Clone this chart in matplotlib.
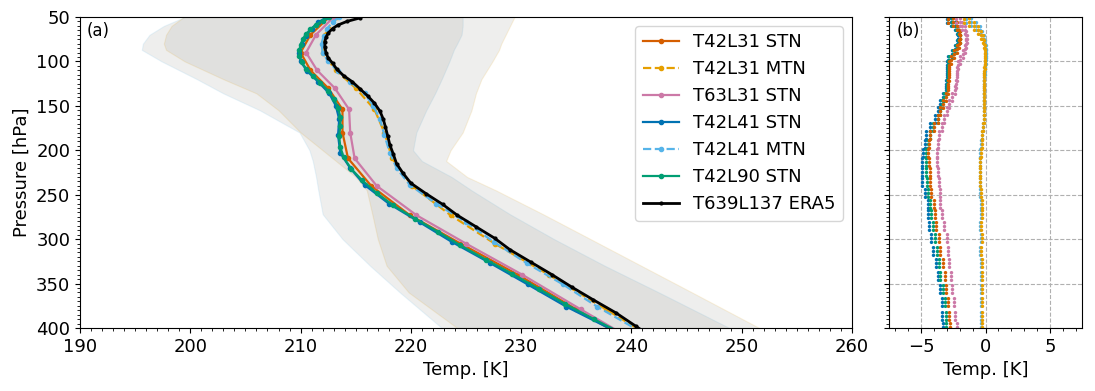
import numpy as np
import matplotlib
matplotlib.use("Agg")
import matplotlib.pyplot as plt
from matplotlib.path import Path
from matplotlib.ticker import MultipleLocator

# ---------------- data (panel a) ----------------
p_L31 = [50, 70, 90, 110, 130, 154, 180, 209, 240, 273, 305, 340, 379, 421]
t_T42L31_STN = [212.6, 210.9, 210.0, 210.9, 212.5, 213.8, 213.8, 214.3, 216.4, 219.9, 224.5, 229.7, 235.0, 240.8]
t_T42L31_MTN = [213.3, 212.2, 212.0, 213.2, 215.0, 216.7, 217.6, 218.3, 220.1, 223.6, 227.6, 232.5, 237.7, 243.2]
t_T63L31_STN = [213.0, 211.4, 210.5, 211.5, 213.1, 214.4, 214.5, 214.9, 216.9, 220.5, 225.0, 230.1, 235.4, 241.2]

p_L41 = [50, 56, 63, 71, 80, 90, 100, 111, 123, 136, 150, 165, 183, 203, 220, 239, 260, 281, 303, 327, 351, 376, 401]
t_T42L41_STN = [212.4, 211.6, 211.0, 210.5, 210.1, 209.9, 210.0, 210.6, 211.6, 212.6, 213.2, 213.5, 213.4, 213.6,
                214.5, 215.8, 218.0, 220.8, 223.7, 227.2, 230.6, 234.1, 238.1]
t_T42L41_MTN = [213.5, 212.9, 212.4, 212.1, 211.9, 212.0, 212.5, 213.4, 214.5, 215.8, 216.6, 217.2, 217.6, 218.1,
                218.7, 219.9, 222.3, 225.0, 227.5, 230.5, 233.8, 236.9, 240.4]

p_L90 = [50, 54, 59, 64, 69, 75, 81, 87, 94, 101, 108, 116, 124, 133, 142, 152, 162, 173, 184, 196, 208, 221,
         234, 248, 262, 277, 292, 307, 323, 339, 356, 373, 390, 408]
t_T42L90_STN = [212.6, 212.0, 211.4, 210.9, 210.5, 210.2, 210.0, 209.9, 209.9, 210.1, 210.5, 211.1, 211.8, 212.5,
                213.0, 213.4, 213.6, 213.6, 213.5, 213.6, 213.9, 214.6, 215.6, 216.9, 218.4, 220.4, 222.5, 224.5,
                226.8, 229.2, 231.6, 234.0, 236.6, 239.4]

p_ERA5 = [51, 55, 59, 63, 68, 73, 78, 84, 90, 96, 102, 109, 116, 123, 131, 139, 147, 156, 165, 174, 184, 194,
          204, 215, 226, 237, 249, 261, 273, 286, 299, 312, 326, 340, 354, 368, 383, 398, 413]
t_ERA5 = [215.4, 214.2, 213.4, 212.9, 212.5, 212.3, 212.2, 212.2, 212.3, 212.5, 212.9, 213.3, 213.9, 214.7,
          215.4, 216.1, 216.7, 217.2, 217.5, 217.7, 217.9, 218.1, 218.4, 218.7, 219.3, 220.0, 221.4, 222.9,
          224.2, 225.9, 227.6, 229.0, 230.9, 232.8, 234.6, 236.5, 238.6, 240.4, 242.2]

# envelopes (spread) for the STN and MTN/ERA5 groups
p_env = [50, 60, 70, 80, 87, 100, 120, 136, 155, 180, 200, 212, 230, 245, 272, 300, 330, 360, 400]
stn_low = [199.5, 197.6, 196.3, 195.7, 195.6, 197.4, 200.6, 203.0, 206.3, 209.9, 210.8, 211.1, 211.4, 211.6,
           212.0, 213.8, 216.3, 219.0, 222.8]
stn_high = [224.7, 224.7, 224.6, 224.2, 223.9, 223.5, 222.8, 222.2, 221.4, 220.5, 220.2, 221.0, 223.7, 225.5,
            229.0, 233.0, 237.6, 242.5, 248.9]
mtn_low = [199.4, 198.3, 197.8, 197.6, 197.8, 199.5, 203.0, 206.0, 208.0, 210.0, 212.0, 213.2, 215.0, 216.0,
           216.5, 217.0, 217.8, 219.8, 224.2]
mtn_high = [229.4, 229.0, 228.6, 228.2, 228.0, 227.4, 226.4, 225.9, 225.5, 224.7, 223.6, 223.2, 225.1, 227.7,
            232.0, 236.3, 240.9, 245.5, 251.6]

# ---------------- data (panel b): differences to ERA5 ----------------
p_diff = [52, 56, 60, 65, 70, 75, 80, 86, 92, 98, 104, 111, 118, 125, 132, 140, 148, 156, 165, 174, 183, 193,
          203, 213, 224, 236, 248, 260, 272, 285, 299, 313, 327, 341, 356, 371, 386, 399]
d_T42L31_STN = [-2.9, -2.55, -2.25, -2.05, -1.95, -1.95, -2.05, -2.25, -2.45, -2.7, -2.8, -2.85, -2.85, -2.9,
                -2.95, -3.1, -3.3, -3.5, -3.7, -4.0, -4.3, -4.4, -4.45, -4.4, -4.35, -4.3, -4.2, -4.0, -3.95,
                -3.85, -3.6, -3.5, -3.3, -3.15, -3.1, -2.95, -2.85, -2.75]
d_T42L31_MTN = [-1.7, -1.3, -0.9, -0.6, -0.35, -0.2, -0.1, -0.05, -0.05, -0.05, -0.05, -0.1, -0.1, -0.1, -0.1,
                -0.15, -0.15, -0.15, -0.15, -0.2, -0.25, -0.3, -0.35, -0.4, -0.4, -0.4, -0.35, -0.3, -0.3,
                -0.35, -0.3, -0.35, -0.3, -0.3, -0.3, -0.3, -0.3, -0.3]
d_T63L31_STN = [-2.3, -2.0, -1.8, -1.6, -1.5, -1.45, -1.5, -1.6, -1.75, -2.0, -2.1, -2.2, -2.2, -2.3, -2.4,
                -2.6, -2.85, -3.0, -3.2, -3.4, -3.6, -3.7, -3.8, -3.75, -3.7, -3.6, -3.55, -3.5, -3.35, -3.2,
                -3.0, -2.9, -2.8, -2.7, -2.6, -2.45, -2.35, -2.2]
d_T42L41_STN = [-3.0, -2.7, -2.4, -2.2, -2.1, -2.1, -2.2, -2.4, -2.6, -2.9, -3.0, -3.0, -3.0, -3.1, -3.1, -3.3,
                -3.5, -3.7, -3.9, -4.3, -4.6, -4.7, -4.85, -4.9, -4.95, -4.9, -4.7, -4.5, -4.45, -4.4, -4.25,
                -4.05, -3.85, -3.7, -3.55, -3.4, -3.35, -3.3]
d_T42L41_MTN = [-1.5, -1.1, -0.75, -0.45, -0.25, -0.1, -0.05, 0.0, 0.0, 0.0, -0.05, -0.05, -0.1, -0.1, -0.1,
                -0.1, -0.15, -0.15, -0.15, -0.2, -0.3, -0.35, -0.4, -0.45, -0.45, -0.45, -0.4, -0.35, -0.35,
                -0.4, -0.35, -0.4, -0.35, -0.35, -0.35, -0.35, -0.35, -0.35]
d_T42L90_STN = [-2.9, -2.6, -2.3, -2.1, -2.0, -2.0, -2.1, -2.3, -2.5, -2.8, -2.9, -2.9, -2.9, -3.0, -3.0, -3.2,
                -3.35, -3.55, -3.7, -4.05, -4.35, -4.45, -4.6, -4.6, -4.6, -4.55, -4.5, -4.3, -4.2, -4.1, -3.95,
                -3.8, -3.65, -3.5, -3.3, -3.15, -3.1, -3.05]

labels = ["T42L31 STN", "T42L31 MTN", "T63L31 STN", "T42L41 STN", "T42L41 MTN", "T42L90 STN", "T639L137 ERA5"]
colors = ["#D55E00", "#E69F00", "#CC79A7", "#0072B2", "#56B4E9", "#009E73", "black"]
styles = ["-", "--", "-", "-", "--", "-", "-"]

# ---------------- figure ----------------
plt.rcParams["font.family"] = "DejaVu Sans"
fig = plt.figure(figsize=(10.95, 3.91), dpi=100)
W, H = 1095.0, 391.0
ax1 = fig.add_axes([80 / W, 1 - 328 / H, (852 - 80) / W, (328 - 17) / H])
ax2 = fig.add_axes([889 / W, 1 - 328 / H, (1082 - 889) / W, (328 - 17) / H])

env_col = "#7f7f76"
ax1.fill_betweenx(p_env, stn_low, stn_high, facecolor=env_col, alpha=0.125, lw=0.8,
                  edgecolor=(0.34, 0.71, 0.91, 0.08))
ax1.fill_betweenx(p_env, mtn_low, mtn_high, facecolor=env_col, alpha=0.125, lw=0.8,
                  edgecolor=(0.90, 0.62, 0.0, 0.06))

series_a = [(p_L31, t_T42L31_STN), (p_L31, t_T42L31_MTN), (p_L31, t_T63L31_STN),
            (p_L41, t_T42L41_STN), (p_L41, t_T42L41_MTN), (p_L90, t_T42L90_STN), (p_ERA5, t_ERA5)]
for (pp, tt), lab, c, ls in zip(series_a, labels, colors, styles):
    if lab.endswith("ERA5"):
        ax1.plot(tt, pp, ls, color=c, lw=2.0, marker=".", ms=4, label=lab)
    else:
        ax1.plot(tt, pp, ls, color=c, lw=1.6, marker=".", ms=6, label=lab)

ax1.set_xlim(190, 260)
ax1.set_ylim(400, 50)
ax1.xaxis.set_major_locator(MultipleLocator(10))
ax1.xaxis.set_minor_locator(MultipleLocator(1))
ax1.yaxis.set_major_locator(MultipleLocator(50))
ax1.yaxis.set_minor_locator(MultipleLocator(5))
ax1.tick_params(labelsize=13)
ax1.set_xlabel("Temp. [K]", fontsize=13)
ax1.set_ylabel("Pressure [hPa]", fontsize=13)
ax1.text(0.008, 0.985, "(a)", transform=ax1.transAxes, ha="left", va="top", fontsize=12)
ax1.legend(loc="upper right", fontsize=13, handlelength=2.0, borderaxespad=0.5)

# vertical stack of three dots as marker
circ = [Path.circle((0, y), 0.45) for y in (-1.0, 0.0, 1.0)]
vdots = Path.make_compound_path(*circ)

series_b = [d_T42L41_STN, d_T42L90_STN, d_T42L31_STN, d_T63L31_STN, d_T42L41_MTN, d_T42L31_MTN]
cols_b = ["#0072B2", "#009E73", "#D55E00", "#CC79A7", "#56B4E9", "#E69F00"]
for dd, c in zip(series_b, cols_b):
    ax2.plot(dd, p_diff, linestyle="none", marker=vdots, ms=8, color=c, mec="none")

ax2.set_xlim(-7.5, 7.5)
ax2.set_ylim(400, 50)
ax2.xaxis.set_major_locator(MultipleLocator(5))
ax2.xaxis.set_minor_locator(MultipleLocator(1))
ax2.yaxis.set_major_locator(MultipleLocator(50))
ax2.yaxis.set_minor_locator(MultipleLocator(5))
ax2.tick_params(labelsize=13)
ax2.tick_params(axis="y", labelleft=False)
ax2.grid(True, which="major", ls="--", color="#b0b0b0", lw=0.8)
ax2.set_axisbelow(True)
ax2.set_xlabel("Temp. [K]", fontsize=13)
ax2.text(0.04, 0.985, "(b)", transform=ax2.transAxes, ha="left", va="top", fontsize=12)

fig.savefig("out.png", dpi=100)
